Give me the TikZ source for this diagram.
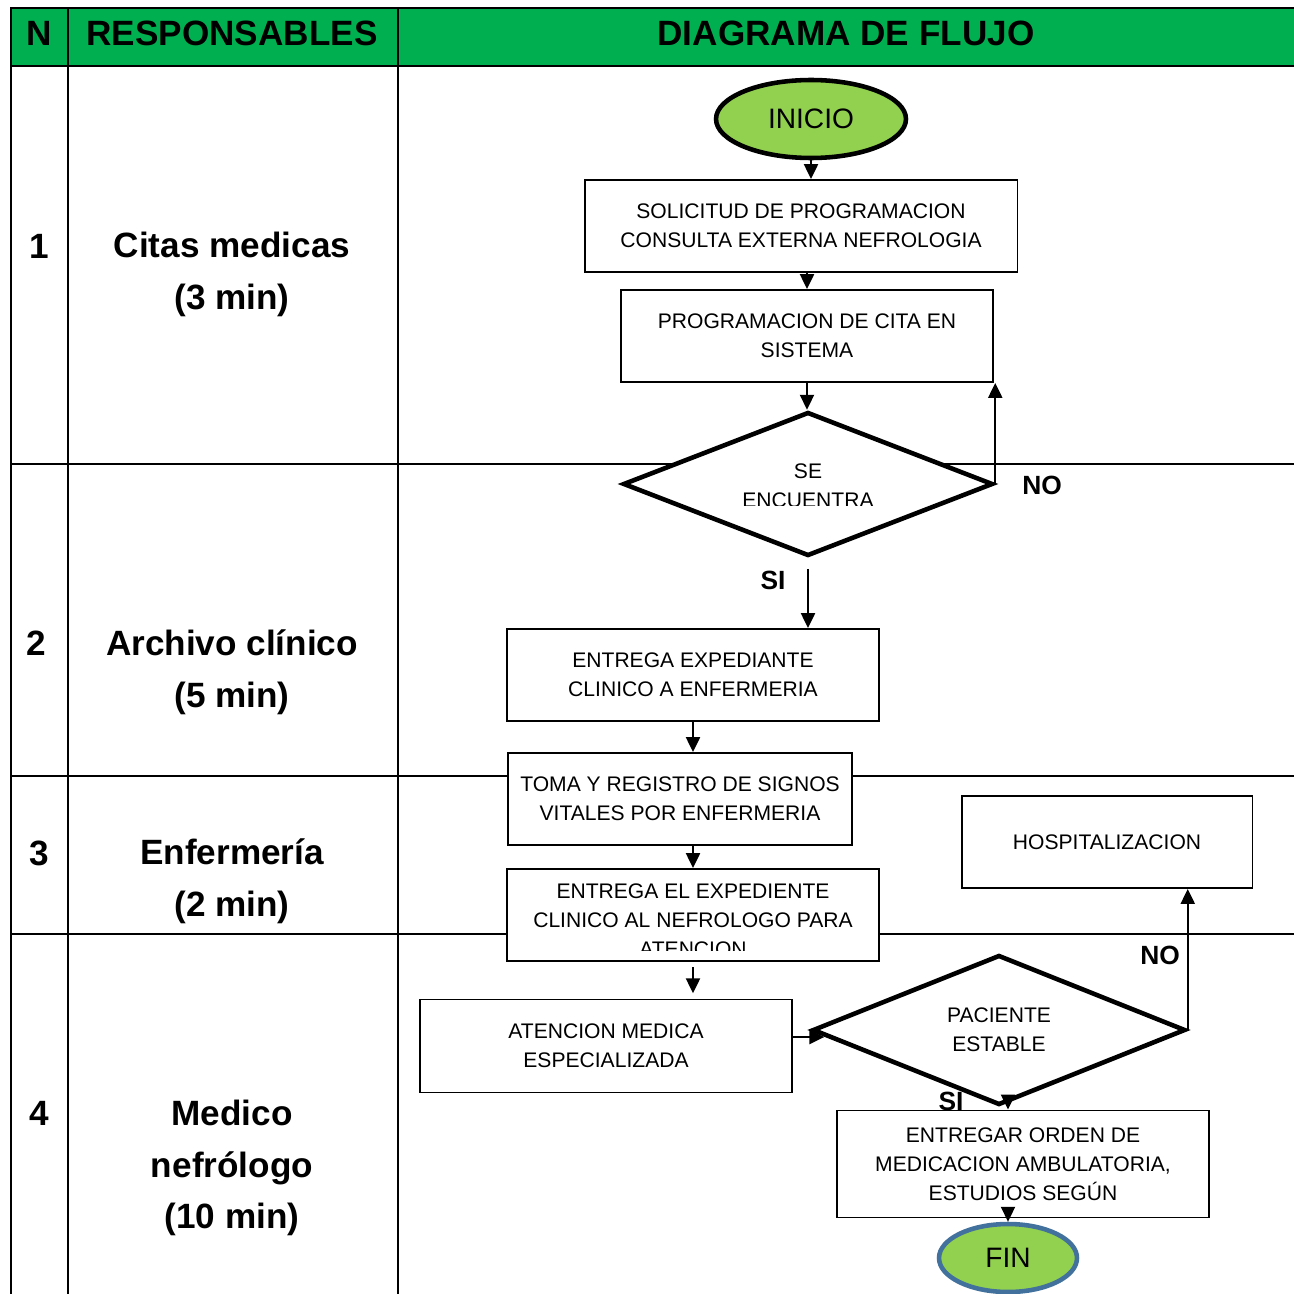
\documentclass[tikz,border=0pt]{standalone}
\usepackage{fontspec}
\setmainfont{Liberation Sans}
\usetikzlibrary{shapes.geometric,arrows.meta,calc}
\definecolor{verdetabla}{HTML}{00B050}
\definecolor{verdeclaro}{HTML}{92D050}
\definecolor{azulborde}{HTML}{41719C}
\tikzset{
  linea/.style={line width=1.2pt},
  caja/.style={draw, line width=1.1pt, fill=white, align=center, inner sep=1pt,
    font=\fontsize{12}{16.5}\selectfont},
  rombo/.style={diamond, draw, line width=2.6pt, fill=white, inner sep=0pt, align=center,
    font=\fontsize{12}{16.5}\selectfont},
  terminal/.style={ellipse, draw, line width=2.6pt, fill=verdeclaro, font=\fontsize{16}{19}\selectfont},
  flecha/.style={->, line width=1.1pt},
  titulo/.style={font=\fontsize{20}{24}\selectfont\bfseries},
  carril/.style={align=center, font=\fontsize{20}{29.5}\selectfont\bfseries},
  decision/.style={font=\fontsize{15}{18}\selectfont\bfseries},
  texto/.style={align=center, font=\fontsize{12}{16.5}\selectfont}
}
\begin{document}
\begin{tikzpicture}[x=0.02cm, y=-0.02cm, >={Triangle[length=8.5pt,width=8pt]}]
  \useasboundingbox (0,0) rectangle (1294,1294);
  % tabla
  \fill[verdetabla] (11,8) rectangle (1294,66);
  \draw[linea] (1294,8) -- (11,8) -- (11,1294);
  \draw[linea] (11,66) -- (1294,66);
  \draw[linea] (68,8) -- (68,1294);
  \draw[linea] (398,8) -- (398,1294);
  \draw[linea] (11,464) -- (1294,464);
  \draw[linea] (11,776) -- (1294,776);
  \draw[linea] (11,934) -- (1294,934);
  \node[titulo] (hn) at (39,33) {N};
  \node[titulo] (hresp) at (232,33) {RESPONSABLES};
  \node[titulo] (hflujo) at (846,33) {DIAGRAMA DE FLUJO};
  % responsables
  \node[titulo] (n1) at (39,246) {1};
  \node[carril] (r1) at (232,274) {Citas medicas\\(3 min)};
  \node[titulo] (n2) at (36,643) {2};
  \node[carril] (r2) at (232,672) {Archivo clínico\\(5 min)};
  \node[titulo] (n3) at (39,853) {3};
  \node[carril] (r3) at (232,881) {Enfermería\\(2 min)};
  \node[titulo] (n4) at (39,1113) {4};
  \node[carril] (r4) at (232,1168) {Medico\\nefrólogo\\(10 min)};
  % flujo
  \node[terminal, minimum width=3.8cm, minimum height=1.56cm] (inicio) at (811,119) {INICIO};
  \node[caja, minimum width=8.66cm, minimum height=1.84cm] (solicitud) at (801,226) {SOLICITUD DE PROGRAMACION\\CONSULTA EXTERNA NEFROLOGIA};
  \node[caja, minimum width=7.44cm, minimum height=1.84cm] (programacion) at (807,336) {PROGRAMACION DE CITA EN\\SISTEMA};
  \node[rombo, minimum width=7.4cm, minimum height=2.88cm] (encuentra) at (808,484) {};
  \begin{scope}
    \clip (600,400) rectangle (1000,505);
    \node[texto] (tencuentra) at (808,486) {SE\\ENCUENTRA};
  \end{scope}
  \node[caja, minimum width=7.44cm, minimum height=1.84cm] (entrega) at (693,675) {ENTREGA EXPEDIANTE\\CLINICO A ENFERMERIA};
  \node[caja, minimum width=6.88cm, minimum height=1.84cm] (signos) at (680,799) {TOMA Y REGISTRO DE SIGNOS\\VITALES POR ENFERMERIA};
  \node[caja, minimum width=7.44cm, minimum height=1.84cm] (expediente) at (693,915) {};
  \begin{scope}
    \clip (507,869) rectangle (879,950);
    \node[texto] (texpediente) at (693,920) {ENTREGA EL EXPEDIENTE\\CLINICO AL NEFROLOGO PARA\\ATENCION};
  \end{scope}
  \node[caja, minimum width=7.44cm, minimum height=1.86cm] (atencion) at (606,1046) {ATENCION MEDICA\\ESPECIALIZADA};
  \node[rombo, minimum width=7.46cm, minimum height=3cm] (estable) at (999,1030) {PACIENTE\\ESTABLE};
  \node[caja, minimum width=5.82cm, minimum height=1.84cm] (hospital) at (1107,842) {HOSPITALIZACION};
  \node[caja, minimum width=7.44cm, minimum height=2.14cm] (orden) at (1023,1164) {ENTREGAR ORDEN DE\\MEDICACION AMBULATORIA,\\ESTUDIOS SEGÚN};
  \node[terminal, draw=azulborde, minimum width=2.76cm, minimum height=1.36cm] (fin) at (1008,1258) {FIN};
  % etiquetas
  \node[decision] (no1) at (1042,485) {NO};
  \node[decision] (si1) at (773,580) {SI};
  \node[decision] (no2) at (1160,955) {NO};
  \node[decision] (si2) at (951,1101) {SI};
  % conectores
  \draw[flecha] (inicio) -- (inicio |- solicitud.north);
  \draw[flecha] (solicitud.south -| programacion) -- (programacion.north);
  \draw[flecha] (programacion) -- (programacion |- encuentra.north);
  \draw[flecha] (encuentra.east) -- (encuentra.east |- programacion.south);
  \draw[flecha, shorten <=6pt] (encuentra.south) -- (encuentra.south |- entrega.north);
  \draw[flecha] (entrega.south) -- (entrega.south |- signos.north);
  \draw[flecha] (signos.south -| expediente) -- (expediente.north);
  \draw[flecha, shorten <=3pt, shorten >=3pt] (expediente.south) -- (expediente.south |- atencion.north);
  \draw[flecha, shorten >=-8pt] ([yshift=0.18cm]atencion.east) -- ([yshift=0.18cm]atencion.east -| estable.west);
  \draw[flecha] (estable.east) -- (estable.east |- hospital.south);
  \draw[flecha] ($(estable.south)+(0.18cm,0.24cm)$) -- ($(estable.south |- orden.north)+(0.18cm,0)$);
  \draw[flecha] ($(fin.north |- orden.south)+(0,0.2cm)$) -- (fin.north);
\end{tikzpicture}
\end{document}
